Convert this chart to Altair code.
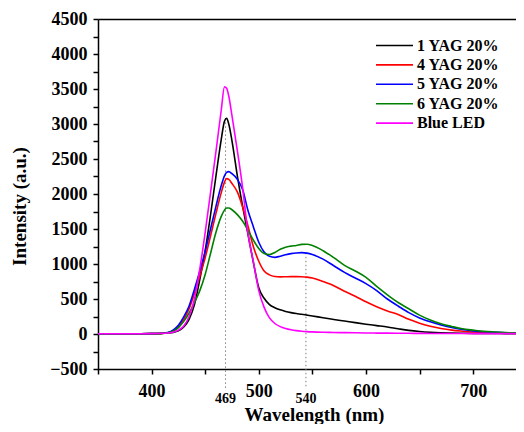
import altair as alt
import pandas as pd

wavelength = [350, 360, 370, 380, 390, 400, 405, 410, 415, 420, 425, 430, 435, 440, 445,
              450, 455, 460, 465, 468, 470, 472, 475, 480, 485, 490, 495, 500, 505, 510,
              515, 520, 525, 530, 535, 540, 545, 550, 560, 570, 580, 590, 600, 610, 620,
              630, 640, 650, 660, 670, 680, 690, 700, 710, 720, 730, 740, 750]

series_names = ["1 YAG 20%", "4 YAG 20%", "5 YAG 20%", "6 YAG 20%", "Blue LED"]
series_colors = ["#000000", "#ff0000", "#0000ff", "#008000", "#ff00ff"]

yag1 = [3, 3, 3, 3, 4, 5, 6, 9, 14, 22, 45, 100, 210, 420, 780,
        1190, 1700, 2250, 2780, 3040, 3080, 3000, 2760, 2260, 1820, 1420, 1020, 660, 510, 420,
        375, 345, 322, 305, 292, 282, 270, 258, 232, 208, 185, 162, 140, 120, 100,
        75, 52, 36, 25, 18, 14, 11, 9, 8, 7, 6, 6, 5]
yag4 = [3, 3, 3, 3, 4, 5, 6, 9, 16, 40, 100, 210, 360, 580, 830,
        1090, 1400, 1720, 2020, 2170, 2220, 2210, 2150, 2030, 1810, 1540, 1245, 1040, 900, 845,
        822, 816, 818, 820, 820, 818, 812, 800, 750, 690, 610, 540, 460, 390, 330,
        280, 210, 155, 110, 78, 55, 40, 28, 20, 15, 12, 10, 8]
yag5 = [3, 3, 3, 3, 4, 5, 7, 11, 22, 55, 125, 245, 400, 640, 900,
        1180, 1500, 1820, 2120, 2260, 2310, 2320, 2290, 2210, 2060, 1760, 1530, 1310, 1170, 1110,
        1095, 1112, 1132, 1148, 1158, 1162, 1155, 1135, 1070, 975, 880, 800, 720, 620, 500,
        400, 305, 230, 175, 130, 92, 65, 45, 33, 25, 18, 14, 10]
yag6 = [3, 3, 3, 3, 4, 5, 6, 9, 16, 38, 90, 180, 300, 450, 620,
        850, 1150, 1450, 1680, 1770, 1800, 1800, 1775, 1705, 1610, 1480, 1340, 1220, 1150, 1135,
        1165, 1210, 1240, 1255, 1265, 1280, 1282, 1265, 1190, 1090, 980, 900, 810, 680, 560,
        450, 360, 270, 200, 145, 108, 75, 55, 38, 28, 20, 15, 10]
blue_led = [3, 3, 3, 3, 4, 5, 7, 10, 15, 25, 55, 115, 250, 500, 930,
            1450, 2020, 2600, 3200, 3530, 3510, 3400, 3120, 2620, 2080, 1430, 1030, 620, 380, 230,
            150, 105, 78, 60, 48, 40, 34, 30, 25, 22, 19, 17, 15, 13, 12,
            11, 10, 9, 8, 8, 7, 7, 6, 6, 6, 5, 5, 5]

# dotted guide lines as drawn (the right one sits a little right of 540 in the figure)
peak_positions = [469, 544]
peak_tops = [3080, 1160]
peak_labels = ["469", "540"]

rows = []
for name, vals in zip(series_names, [yag1, yag4, yag5, yag6, blue_led]):
    for w, v in zip(wavelength, vals):
        rows.append({"series": name, "wl": w, "val": v})
df = pd.DataFrame(rows)
ann = pd.DataFrame({"pos": peak_positions, "top": peak_tops, "label": peak_labels})

FONT = "Liberation Serif"
W, H = 418, 350
xscale = alt.Scale(domain=[350, 740], nice=False, zero=False)
yscale = alt.Scale(domain=[-500, 4500], nice=False, zero=False)

lines = alt.Chart(df).mark_line(strokeWidth=1.6, clip=True, interpolate="monotone").encode(
    x=alt.X("wl:Q", scale=xscale,
            axis=alt.Axis(title="Wavelength (nm)", values=list(range(350, 751, 50)), format="d",
                          labelExpr="datum.value % 100 == 0 ? datum.label : ''",
                          tickSize=5, labelPadding=8, labelFontSize=18, titleFontSize=19,
                          titleX=216, titleY=51, titleAlign="center", titleBaseline="alphabetic",
                          grid=False)),
    y=alt.Y("val:Q", scale=yscale,
            axis=alt.Axis(title="Intensity (a.u.)", values=list(range(-500, 4501, 250)), format="d",
                          labelExpr="datum.value % 500 == 0 ? datum.label : ''",
                          tickSize=5, labelPadding=6, labelFontSize=18, titleFontSize=19,
                          titleX=-73, titleY=187, titleAlign="center", titleBaseline="alphabetic",
                          grid=False)),
    color=alt.Color("series:N", sort=series_names,
                    scale=alt.Scale(domain=series_names, range=series_colors),
                    legend=alt.Legend(title=None, orient="none", legendX=286, legendY=16,
                                      symbolType="M-2,0H2", symbolSize=342, symbolStrokeWidth=1.6,
                                      labelFontSize=16, labelFontWeight="bold", labelFont=FONT,
                                      labelColor="black", labelLimit=0, labelOffset=12, rowPadding=0.4)),
)

frame = alt.Chart(ann).mark_rule(opacity=0).encode(
    x=alt.X("pos:Q", scale=xscale,
            axis=alt.Axis(orient="top", labels=False, ticks=False, title=None, grid=False)),
)

guides = alt.Chart(ann).mark_rule(color="#808080", strokeWidth=1, strokeDash=[1.5, 2.5]).encode(
    x=alt.X("pos:Q", scale=xscale, axis=None),
    y=alt.Y("top:Q", scale=yscale, axis=None),
    y2=alt.datum(-770),
)

labels = alt.Chart(ann).mark_text(fontSize=14, fontWeight="bold", font=FONT, color="black",
                                  baseline="middle").encode(
    x=alt.X("pos:Q", scale=xscale, axis=None),
    y=alt.YDatum(-925, scale=yscale, axis=None),
    text="label:N",
)

chart = alt.layer(guides, lines, frame, labels).resolve_axis(x="independent", y="independent").properties(
    width=W, height=H,
    padding={"left": 90, "top": 11, "right": 0, "bottom": 55},
    autosize=alt.AutoSizeParams(type="none"),
).configure(font=FONT).configure_axis(
    domainColor="black", domainWidth=1.5, tickColor="black", tickWidth=1.5,
    labelColor="black", titleColor="black", labelFont=FONT, titleFont=FONT,
    labelFontWeight="bold", titleFontWeight="bold",
).configure_view(stroke=None)

chart.save("out.html", embed_options={"renderer": "svg", "actions": False})
